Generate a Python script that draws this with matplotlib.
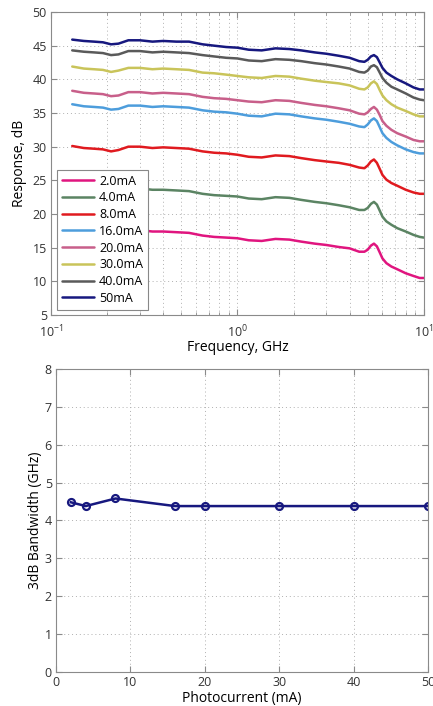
import numpy as np
import matplotlib
matplotlib.use("Agg")
import matplotlib.pyplot as plt
from matplotlib.ticker import LogLocator, NullFormatter

plt.rcParams["font.family"] = ["Open Sans", "DejaVu Sans"]
plt.rcParams["mathtext.fontset"] = "custom"
plt.rcParams["mathtext.rm"] = "Open Sans"

# frequency response data (GHz, dB)
freq = [0.13, 0.15, 0.17, 0.19, 0.21, 0.23, 0.26, 0.30, 0.35, 0.40, 0.47, 0.55, 0.65,
        0.75, 0.87, 1.0, 1.15, 1.35, 1.6, 1.9, 2.2, 2.6, 3.0, 3.5, 4.0, 4.5, 4.8, 5.0,
        5.2, 5.4, 5.6, 5.8, 6.0, 6.3, 6.7, 7.2, 8.0, 8.8, 9.5, 10.0]

resp_2mA = [17.8, 17.6, 17.5, 17.4, 17.1, 17.2, 17.6, 17.6, 17.4, 17.4, 17.3, 17.2, 16.8,
            16.6, 16.5, 16.4, 16.1, 16.0, 16.3, 16.2, 15.9, 15.6, 15.4, 15.1, 14.9,
            14.4, 14.4, 14.7, 15.3, 15.6, 15.2, 14.3, 13.4, 12.7, 12.2, 11.8, 11.2, 10.8, 10.5, 10.5]
resp_4mA = [23.9, 23.7, 23.6, 23.5, 23.2, 23.4, 23.8, 23.8, 23.6, 23.6, 23.5, 23.4, 23.0,
            22.8, 22.7, 22.6, 22.3, 22.2, 22.5, 22.4, 22.1, 21.8, 21.6, 21.3, 21.0,
            20.6, 20.6, 20.9, 21.5, 21.8, 21.4, 20.5, 19.6, 18.9, 18.4, 17.9, 17.4, 16.9, 16.6, 16.5]
resp_8mA = [30.1, 29.8, 29.7, 29.6, 29.3, 29.5, 30.0, 30.0, 29.8, 29.9, 29.8, 29.7, 29.3,
            29.1, 29.0, 28.8, 28.5, 28.4, 28.7, 28.6, 28.3, 28.0, 27.8, 27.6, 27.3,
            26.9, 26.8, 27.2, 27.8, 28.1, 27.6, 26.7, 25.8, 25.1, 24.6, 24.2, 23.6, 23.2, 23.0, 23.0]
resp_16mA = [36.3, 36.0, 35.9, 35.8, 35.5, 35.6, 36.1, 36.1, 35.9, 36.0, 35.9, 35.8, 35.4,
             35.2, 35.1, 34.9, 34.6, 34.5, 34.9, 34.8, 34.5, 34.2, 34.0, 33.7, 33.4,
             33.0, 32.9, 33.3, 33.9, 34.2, 33.8, 32.9, 32.0, 31.3, 30.7, 30.2, 29.6, 29.2, 29.0, 29.0]
resp_20mA = [38.3, 38.0, 37.9, 37.8, 37.5, 37.6, 38.1, 38.1, 37.9, 38.0, 37.9, 37.8, 37.4,
             37.2, 37.1, 36.9, 36.7, 36.6, 36.9, 36.8, 36.5, 36.2, 36.0, 35.7, 35.4,
             34.9, 34.8, 35.1, 35.6, 35.9, 35.5, 34.7, 33.8, 33.1, 32.5, 32.0, 31.5, 31.0, 30.8, 30.8]
resp_30mA = [41.9, 41.6, 41.5, 41.4, 41.1, 41.3, 41.7, 41.7, 41.5, 41.6, 41.5, 41.4, 41.0,
             40.9, 40.7, 40.5, 40.3, 40.2, 40.5, 40.4, 40.1, 39.8, 39.6, 39.4, 39.1,
             38.6, 38.5, 38.8, 39.4, 39.7, 39.3, 38.4, 37.6, 36.9, 36.3, 35.8, 35.3, 34.8, 34.5, 34.5]
resp_40mA = [44.3, 44.1, 44.0, 43.9, 43.6, 43.7, 44.2, 44.2, 44.0, 44.1, 44.0, 43.9, 43.6,
             43.4, 43.2, 43.1, 42.8, 42.7, 43.0, 42.9, 42.7, 42.4, 42.2, 41.9, 41.6,
             41.1, 41.0, 41.3, 41.9, 42.1, 41.8, 41.0, 40.2, 39.5, 38.9, 38.5, 37.9, 37.3, 37.0, 36.9]
resp_50mA = [45.9, 45.7, 45.6, 45.5, 45.2, 45.3, 45.8, 45.8, 45.6, 45.7, 45.6, 45.6, 45.2,
             45.0, 44.8, 44.7, 44.4, 44.3, 44.6, 44.5, 44.3, 44.0, 43.8, 43.5, 43.2,
             42.7, 42.6, 42.9, 43.4, 43.6, 43.3, 42.5, 41.7, 41.0, 40.5, 40.0, 39.4, 38.8, 38.5, 38.5]

labels = ["2.0mA", "4.0mA", "8.0mA", "16.0mA", "20.0mA", "30.0mA", "40.0mA", "50mA"]
colors = ["#e0157f", "#5b8463", "#e01a1f", "#4d9ddc", "#c85f8a", "#c9c45a", "#5a5a5a", "#17187f"]
curves = [resp_2mA, resp_4mA, resp_8mA, resp_16mA, resp_20mA, resp_30mA, resp_40mA, resp_50mA]

# 3dB bandwidth vs photocurrent
current = [2, 4, 8, 16, 20, 30, 40, 50]
bandwidth = [4.48, 4.38, 4.58, 4.38, 4.38, 4.38, 4.38, 4.38]

fig = plt.figure(figsize=(4.33, 7.06), dpi=100)
ax1 = fig.add_axes([0.1178, 0.5538, 0.861, 0.4292])
ax2 = fig.add_axes([0.1293, 0.0482, 0.859, 0.4292])

grid_kw = dict(color="#b0b0b0", linestyle=(0, (1, 3)), linewidth=0.7)

for vals, lab, c in zip(curves, labels, colors):
    ax1.plot(freq, vals, color=c, linewidth=1.8, label=lab,
             solid_joinstyle="round", solid_capstyle="round")
ax1.set_xscale("log")
ax1.set_xlim(0.1, 10)
ax1.set_ylim(5, 50)
ax1.set_yticks(range(5, 51, 5))
ax1.xaxis.set_minor_locator(LogLocator(base=10, subs=np.arange(2, 10)))
ax1.xaxis.set_minor_formatter(NullFormatter())
ax1.grid(True, which="major", **grid_kw)
ax1.grid(True, which="minor", axis="x", **grid_kw)
ax1.set_xlabel("Frequency, GHz", fontsize=10, labelpad=0)
ax1.set_ylabel("Response, dB", fontsize=10, labelpad=4)
leg = ax1.legend(loc="lower left", bbox_to_anchor=(0.005, 0.005), fontsize=9,
                 frameon=True, fancybox=False, handlelength=2.6, labelspacing=0.3,
                 borderpad=0.4, handletextpad=0.4, borderaxespad=0.3)
leg.get_frame().set_edgecolor("#888888")
leg.get_frame().set_linewidth(0.8)
leg.get_frame().set_alpha(1)

ax2.plot(current, bandwidth, color="#17187f", linewidth=1.8, marker="o", markersize=5,
         markerfacecolor="none", markeredgewidth=1.6)
ax2.set_xlim(0, 50)
ax2.set_ylim(0, 8)
ax2.set_xticks(range(0, 51, 10))
ax2.set_yticks(range(0, 9))
ax2.grid(True, **grid_kw)
ax2.set_xlabel("Photocurrent (mA)", fontsize=10, labelpad=1)
ax2.set_ylabel("3dB Bandwidth (GHz)", fontsize=10, labelpad=1)

for ax in (ax1, ax2):
    ax.set_axisbelow(True)
    for s in ax.spines.values():
        s.set_color("#8a8a8a")
        s.set_linewidth(0.8)
    ax.tick_params(which="both", direction="in", top=True, right=True,
                   colors="#8a8a8a", labelcolor="#333333", labelsize=9, pad=3)
    ax.tick_params(which="major", length=4)
    ax.tick_params(which="minor", length=2)
ax1.tick_params(axis="x", which="major", pad=6)

fig.savefig("out.png", dpi=100)
